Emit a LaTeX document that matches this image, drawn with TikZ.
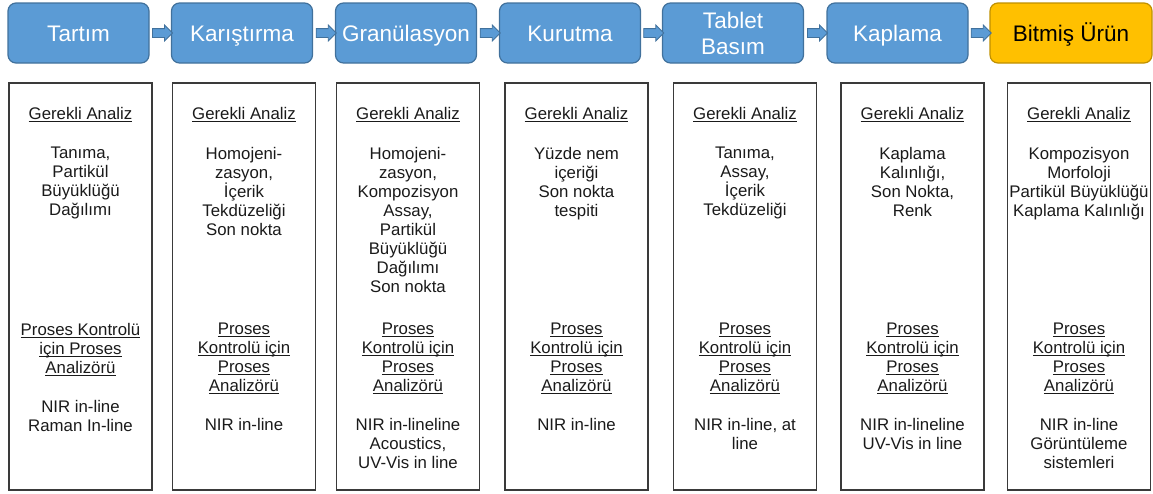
\documentclass[tikz,border=0pt]{standalone}
\usepackage{fontspec}
\setmainfont{Liberation Sans}
\usetikzlibrary{shapes.arrows}
\definecolor{stagefill}{HTML}{5B9BD5}
\definecolor{stageline}{HTML}{41719C}
\definecolor{finalfill}{HTML}{FFC000}
\definecolor{finalline}{HTML}{BF9000}
\definecolor{panelline}{HTML}{3A3A3A}
\definecolor{ink}{HTML}{1A1A1A}
\newcommand\ulin[1]{\setbox0=\hbox{#1}\dp0=0pt \underline{\box0}}

\begin{document}
\begin{tikzpicture}[x=1pt,y=-1pt]
\tikzstyle{stage}=[draw=stageline, fill=stagefill, line width=1.2pt, rounded corners=8pt, minimum width=141pt, minimum height=60pt, inner sep=0pt, text height=17pt, text depth=0pt, align=center, text=white, font=\fontsize{22.5}{26}\selectfont]
\tikzstyle{final}=[stage, draw=finalline, fill=finalfill, text=black, minimum width=162pt]
\tikzstyle{flow}=[single arrow, draw=stageline, fill=stagefill, line width=.8pt, inner xsep=0pt, inner ysep=4pt, minimum height=20pt, single arrow head extend=3.5pt]
\tikzstyle{panel}=[draw=panelline, line width=1.3pt, minimum width=143pt, minimum height=407pt, inner sep=0pt]
\tikzstyle{head}=[anchor=base, inner sep=0pt, text=ink, font=\fontsize{16.8}{19}\selectfont]
\tikzstyle{list}=[anchor=north, inner sep=0pt, align=center, text=ink, font=\fontsize{16.8}{19}\selectfont]
\useasboundingbox (0,0) rectangle (1153,493);
\draw (78.5,33) node (s1) [stage] {Tartım};
\draw (242,33) node (s2) [stage] {Karıştırma};
\draw (406,33) node (s3) [stage] {Granülasyon};
\draw (570,33) node (s4) [stage] {Kurutma};
\draw (733,33) node (s5) [stage, text height=42pt] {Tablet\\Basım};
\draw (897.5,33) node (s6) [stage] {Kaplama};
\draw (1071,33) node (s7) [final] {Bitmiş Ürün};
\path (s1) -- node (f1) [flow] {} (s2);
\path (s2) -- node (f2) [flow] {} (s3);
\path (s3) -- node (f3) [flow] {} (s4);
\path (s4) -- node (f4) [flow] {} (s5);
\path (s5) -- node (f5) [flow] {} (s6);
\path (s6) -- node (f6) [flow] {} (s7);
\draw (80.5,286.5) node (b1) [panel] {};
\draw (244,286.5) node (b2) [panel] {};
\draw (408,286.5) node (b3) [panel] {};
\draw (576.5,286.5) node (b4) [panel] {};
\draw (745,286.5) node (b5) [panel] {};
\draw (912.5,286.5) node (b6) [panel] {};
\draw (1079,286.5) node (b7) [panel] {};
\draw (80.5,119.5) node (h1) [head] {\ulin{Gerekli Analiz}};
\draw (244,119.5) node (h2) [head] {\ulin{Gerekli Analiz}};
\draw (408,119.5) node (h3) [head] {\ulin{Gerekli Analiz}};
\draw (576.5,119.5) node (h4) [head] {\ulin{Gerekli Analiz}};
\draw (745,119.5) node (h5) [head] {\ulin{Gerekli Analiz}};
\draw (912.5,119.5) node (h6) [head] {\ulin{Gerekli Analiz}};
\draw (1079,119.5) node (h7) [head] {\ulin{Gerekli Analiz}};
\draw (80.5,147) node (a1) [list] {Tanıma,\\Partikül\\Büyüklüğü\\Dağılımı};
\draw (244,147) node (a2) [list] {Homojeni-\\zasyon,\\İçerik\\Tekdüzeliği\\Son nokta};
\draw (408,147) node (a3) [list] {Homojeni-\\zasyon,\\Kompozisyon\\Assay,\\Partikül\\Büyüklüğü\\Dağılımı\\Son nokta};
\draw (576.5,147) node (a4) [list] {Yüzde nem\\içeriği\\Son nokta\\tespiti};
\draw (745,147) node (a5) [list] {Tanıma,\\Assay,\\İçerik\\Tekdüzeliği};
\draw (912.5,147) node (a6) [list] {Kaplama\\Kalınlığı,\\Son Nokta,\\Renk};
\draw (1079,147) node (a7) [list] {Kompozisyon\\Morfoloji\\Partikül Büyüklüğü\\Kaplama Kalınlığı};
\draw (80.5,323) node (c1) [list] {\ulin{Proses Kontrolü}\\\ulin{için Proses}\\\ulin{Analizörü}\\[20pt]NIR in-line\\Raman In-line};
\draw (244,323) node (c2) [list] {\ulin{Proses}\\\ulin{Kontrolü için}\\\ulin{Proses}\\\ulin{Analizörü}\\[20pt]NIR in-line};
\draw (408,323) node (c3) [list] {\ulin{Proses}\\\ulin{Kontrolü için}\\\ulin{Proses}\\\ulin{Analizörü}\\[20pt]NIR in-lineline\\Acoustics,\\UV-Vis in line};
\draw (576.5,323) node (c4) [list] {\ulin{Proses}\\\ulin{Kontrolü için}\\\ulin{Proses}\\\ulin{Analizörü}\\[20pt]NIR in-line};
\draw (745,323) node (c5) [list] {\ulin{Proses}\\\ulin{Kontrolü için}\\\ulin{Proses}\\\ulin{Analizörü}\\[20pt]NIR in-line, at\\line};
\draw (912.5,323) node (c6) [list] {\ulin{Proses}\\\ulin{Kontrolü için}\\\ulin{Proses}\\\ulin{Analizörü}\\[20pt]NIR in-lineline\\UV-Vis in line};
\draw (1079,323) node (c7) [list] {\ulin{Proses}\\\ulin{Kontrolü için}\\\ulin{Proses}\\\ulin{Analizörü}\\[20pt]NIR in-line\\Görüntüleme\\sistemleri};
\end{tikzpicture}
\end{document}
